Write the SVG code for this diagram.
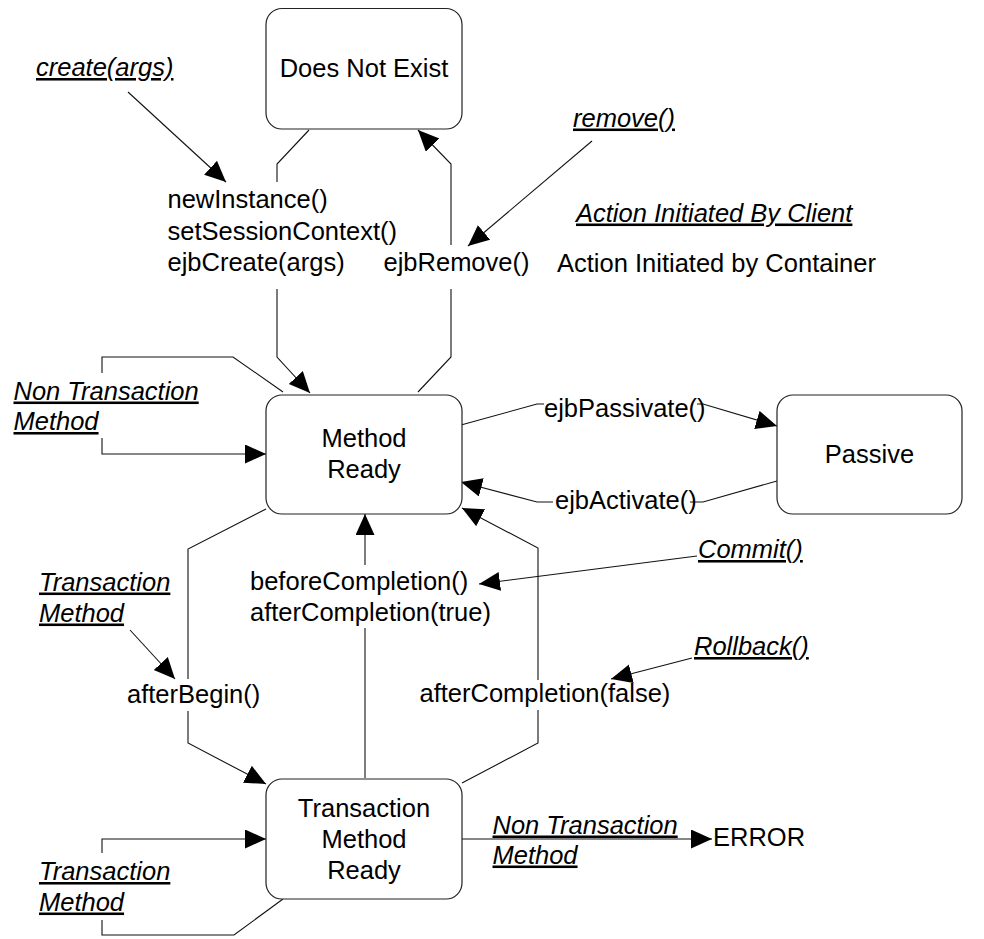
<svg xmlns="http://www.w3.org/2000/svg" width="984" height="939" viewBox="0 0 984 939">
  <style>
    .state { fill: #fff; stroke: #222; stroke-width: 1.2; }
    .conn { fill: none; stroke: #111; stroke-width: 1.1; }
    text { font-family: "Liberation Sans", Arial, Helvetica, sans-serif; font-size: 25.5px; fill: #000; }
    .mid { text-anchor: middle; }
    .client { font-style: italic; text-decoration: underline; }
  </style>
  <defs>
    <marker id="head" markerUnits="userSpaceOnUse" markerWidth="22" markerHeight="20" refX="21" refY="9.5" orient="auto">
      <path d="M0,0 L21,9.5 L0,19 z" fill="#000"/>
    </marker>
  </defs>

  <rect width="984" height="939" fill="#fff"/>

  <!-- connectors -->
  <g id="connectors">
    <!-- create: Does Not Exist -> Method Ready -->
    <polyline class="conn" points="309,130 277,164 277,182"/>
    <polyline class="conn" points="277,289 277,357 310,393" marker-end="url(#head)"/>
    <!-- ejbRemove: Method Ready -> Does Not Exist -->
    <polyline class="conn" points="418,392 451,357 451,289"/>
    <polyline class="conn" points="451,245 451,164 418,130" marker-end="url(#head)"/>
    <!-- client calls -->
    <line class="conn" x1="128" y1="92" x2="226" y2="182" marker-end="url(#head)"/>
    <line class="conn" x1="592" y1="141" x2="468" y2="246" marker-end="url(#head)"/>
    <!-- non transaction method self loop -->
    <polyline class="conn" points="283,392 233,357 102,357 102,373"/>
    <polyline class="conn" points="102,438 102,454 266,454" marker-end="url(#head)"/>
    <!-- passivate / activate -->
    <polyline class="conn" points="461,425 537,404 544,404"/>
    <polyline class="conn" points="697,404 703,404 777,426" marker-end="url(#head)"/>
    <polyline class="conn" points="777,481 703,502 690,502"/>
    <polyline class="conn" points="553,502 537,502 461,482" marker-end="url(#head)"/>
    <!-- afterBegin: Method Ready -> Transaction Method Ready -->
    <polyline class="conn" points="266,509 188,549 188,679"/>
    <polyline class="conn" points="188,711 188,743 266,784" marker-end="url(#head)"/>
    <line class="conn" x1="130" y1="630" x2="175" y2="679" marker-end="url(#head)"/>
    <!-- commit -->
    <line class="conn" x1="365" y1="778" x2="365" y2="628"/>
    <line class="conn" x1="365" y1="565" x2="365" y2="514" marker-end="url(#head)"/>
    <line class="conn" x1="697" y1="556" x2="479" y2="584" marker-end="url(#head)"/>
    <!-- rollback -->
    <polyline class="conn" points="462,783 538,743 538,710"/>
    <polyline class="conn" points="538,680 538,548 462,508" marker-end="url(#head)"/>
    <line class="conn" x1="692" y1="658" x2="611" y2="679" marker-end="url(#head)"/>
    <!-- transaction method self loop -->
    <polyline class="conn" points="283,899 234,935 102,935 102,920"/>
    <polyline class="conn" points="102,853 102,839 266,839" marker-end="url(#head)"/>
    <!-- non transaction method while in transaction -->
    <line class="conn" x1="462" y1="839" x2="712" y2="839" marker-end="url(#head)"/>
  </g>

  <!-- states -->
  <g id="does-not-exist">
    <rect class="state" x="266" y="8.5" width="196" height="120.5" rx="16"/>
    <text class="mid" x="364" y="77">Does Not Exist</text>
  </g>
  <g id="method-ready">
    <rect class="state" x="266" y="395" width="196" height="119" rx="16"/>
    <text class="mid" x="364" y="447">Method</text>
    <text class="mid" x="364" y="477.5">Ready</text>
  </g>
  <g id="passive">
    <rect class="state" x="777" y="395" width="185" height="119" rx="16"/>
    <text class="mid" x="869.5" y="463">Passive</text>
  </g>
  <g id="transaction-method-ready">
    <rect class="state" x="266" y="779" width="196" height="120" rx="16"/>
    <text class="mid" x="364" y="817">Transaction</text>
    <text class="mid" x="364" y="848">Method</text>
    <text class="mid" x="364" y="879">Ready</text>
  </g>
  <g id="error">
    <text x="713" y="845.5">ERROR</text>
  </g>

  <!-- transition labels -->
  <g id="labels">
    <text class="client" x="36" y="76">create(args)</text>
    <text class="client" x="573" y="126.5">remove()</text>
    <text class="client" x="576" y="221.5">Action Initiated By Client</text>
    <text x="557" y="271.5">Action Initiated by Container</text>
    <text x="167.5" y="208">newInstance()</text>
    <text x="167.5" y="239.5">setSessionContext()</text>
    <text x="167.5" y="271">ejbCreate(args)</text>
    <text x="383.5" y="271">ejbRemove()</text>
    <text class="client" x="13.5" y="399.5">Non Transaction</text>
    <text class="client" x="13.5" y="430">Method</text>
    <text x="544" y="416.5">ejbPassivate()</text>
    <text x="555" y="509">ejbActivate()</text>
    <text class="client" x="39" y="590.5">Transaction</text>
    <text class="client" x="39" y="621.5">Method</text>
    <text x="250" y="590">beforeCompletion()</text>
    <text x="250" y="620.5">afterCompletion(true)</text>
    <text class="client" x="698" y="558">Commit()</text>
    <text class="client" x="694" y="655">Rollback()</text>
    <text x="127" y="702.5">afterBegin()</text>
    <text x="419.5" y="701.5">afterCompletion(false)</text>
    <text class="client" x="492.5" y="833.5">Non Transaction</text>
    <text class="client" x="492.5" y="863.5">Method</text>
    <text class="client" x="39" y="880">Transaction</text>
    <text class="client" x="39" y="910.5">Method</text>
  </g>
</svg>
